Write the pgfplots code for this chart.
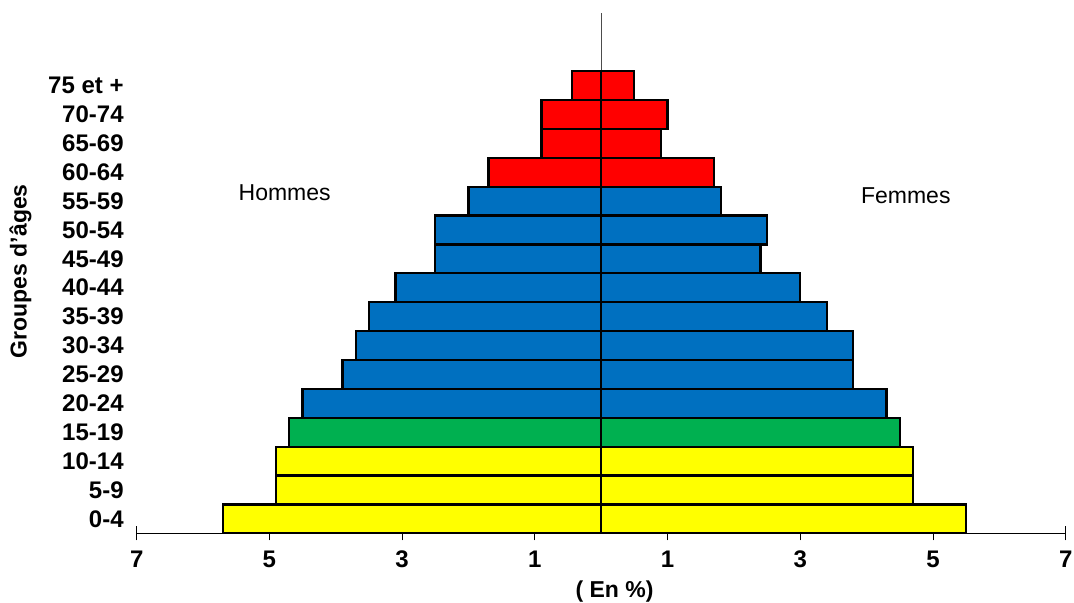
\documentclass[border=0pt]{standalone}
\usepackage{fontspec}
\setmainfont{Liberation Sans}
\usepackage{pgfplots}
\pgfplotsset{compat=1.18}

\definecolor{pyrred}{HTML}{FF0000}
\definecolor{pyrblue}{HTML}{0070C0}
\definecolor{pyrgreen}{HTML}{00B050}
\definecolor{pyryellow}{HTML}{FFFF00}

\begin{document}
\begin{tikzpicture}
\begin{axis}[
  scale only axis,
  width=464.5pt, height=260pt,
  xmin=-7, xmax=7,
  ymin=-0.5, ymax=17.5,
  axis x line*=bottom,
  axis y line*=left,
  y axis line style={draw=none},
  ytick style={draw=none},
  x axis line style={line width=0.5pt},
  xtick style={line width=0.5pt, black},
  tick align=center,
  major tick length=7pt,
  xtick={-7,-5,-3,-1,1,3,5,7},
  xticklabels={7,5,3,1,1,3,5,7},
  ytick={0,...,15},
  yticklabels={0-4,5-9,10-14,15-19,20-24,25-29,30-34,35-39,40-44,45-49,50-54,55-59,60-64,65-69,70-74,75 et +},
  /pgf/number format/assume math mode=true,
  tick label style={font=\bfseries\fontsize{12}{14}\selectfont},
  yticklabel style={anchor=east, xshift=0.5pt},
  xticklabel style={anchor=base, yshift=-13.8pt},
  xlabel={( En \%)},
  ylabel={Groupes d'âges},
  label style={font=\bfseries\fontsize{11.5}{13}\selectfont},
  xlabel style={at={(axis cs:0.2,-0.5)}, anchor=center, yshift=-29.3pt},
  ylabel style={at={(axis description cs:-0.125,0.504)}, anchor=center},
  clip=false,
]
% ligne centrale
\addplot[sharp plot, no marks, draw=black!70, line width=0.5pt, forget plot] coordinates {(0,-0.5) (0,17.5)};

\pgfplotsset{every axis plot/.append style={xbar, bar shift=0pt, bar width=1, draw=black, line width=1.1pt}}
% 0-14 ans
\addplot[fill=pyryellow] coordinates {
  (-5.7,0) (5.5,0)
  (-4.9,1) (4.7,1)
  (-4.9,2) (4.7,2)
};
% 15-19 ans
\addplot[fill=pyrgreen] coordinates {
  (-4.7,3) (4.5,3)
};
% 20-59 ans
\addplot[fill=pyrblue] coordinates {
  (-4.5,4) (4.3,4)
  (-3.9,5) (3.8,5)
  (-3.7,6) (3.8,6)
  (-3.5,7) (3.4,7)
  (-3.1,8) (3.0,8)
  (-2.5,9) (2.4,9)
  (-2.5,10) (2.5,10)
  (-2.0,11) (1.8,11)
};
% 60 ans et +
\addplot[fill=pyrred] coordinates {
  (-1.7,12) (1.7,12)
  (-0.9,13) (0.9,13)
  (-0.9,14) (1.0,14)
  (-0.44,15) (0.5,15)
};

\node[font=\fontsize{11.5}{13}\selectfont] at (axis cs:-4.77,11.3) {Hommes};
\node[font=\fontsize{11.5}{13}\selectfont] at (axis cs:4.59,11.17) {Femmes};
\end{axis}
\pgfresetboundingbox
\path (-68.35pt,-34.85pt) rectangle (468.65pt,266.65pt);
\end{tikzpicture}
\end{document}
